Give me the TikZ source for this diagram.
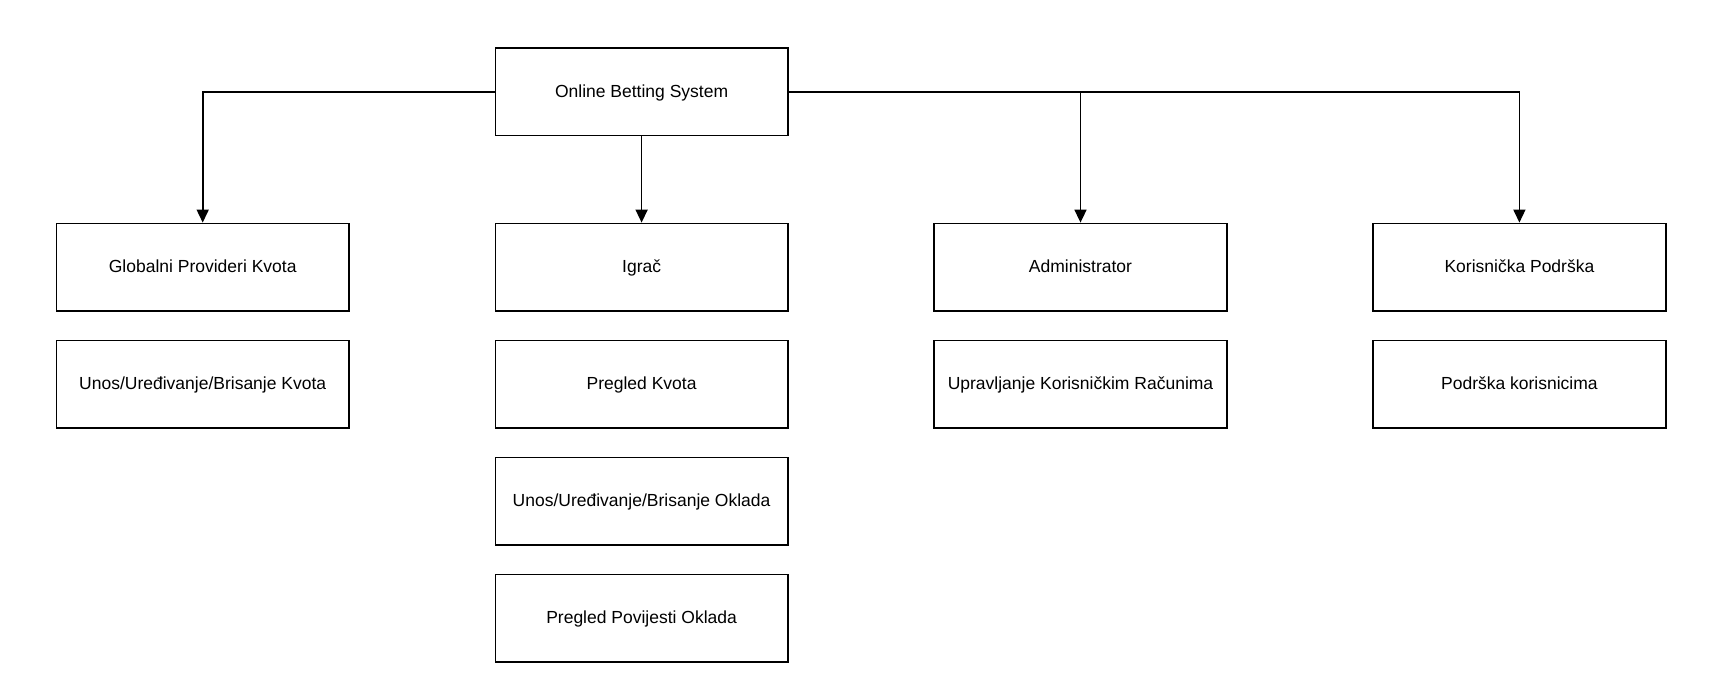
\documentclass[tikz,border=0pt]{standalone}
\usepackage{fontspec}
\setmainfont{Liberation Sans}
\usetikzlibrary{arrows.meta}
\begin{document}
\begin{tikzpicture}[x=1pt,y=-1pt,
  box/.style={draw=black,line width=1.6pt,minimum width=292.6pt,minimum height=87.8pt,inner sep=0pt,text height=13.2pt,text depth=2.2pt,anchor=north west,font=\fontsize{17.5pt}{21pt}\selectfont},
  conn/.style={draw=black,line width=1.6pt,-{Triangle[width=12pt,length=13pt]}}]
\useasboundingbox[fill=white] (0,0) rectangle (1710,681);
\node[box] (root) at (494.5,47) {Online Betting System};
\node[box] (gp) at (55.6,222.6) {Globalni Provideri Kvota};
\node[box] (ig) at (494.5,222.6) {Igrač};
\node[box] (ad) at (933.4,222.6) {Administrator};
\node[box] (kp) at (1372.3,222.6) {Korisnička Podrška};
\node[box] (gp1) at (55.6,339.6) {Unos/Uređivanje/Brisanje Kvota};
\node[box] (ig1) at (494.5,339.6) {Pregled Kvota};
\node[box] (ig2) at (494.5,456.6) {Unos/Uređivanje/Brisanje Oklada};
\node[box] (ig3) at (494.5,573.6) {Pregled Povijesti Oklada};
\node[box] (ad1) at (933.4,339.6) {Upravljanje Korisničkim Računima};
\node[box] (kp1) at (1372.3,339.6) {Podrška korisnicima};
\draw[conn] (root.west) -| (gp.north);
\draw[conn] (root.south) -- (ig.north);
\draw[conn] (root.east) -| (ad.north);
\draw[conn] (root.east) -| (kp.north);
\end{tikzpicture}
\end{document}
